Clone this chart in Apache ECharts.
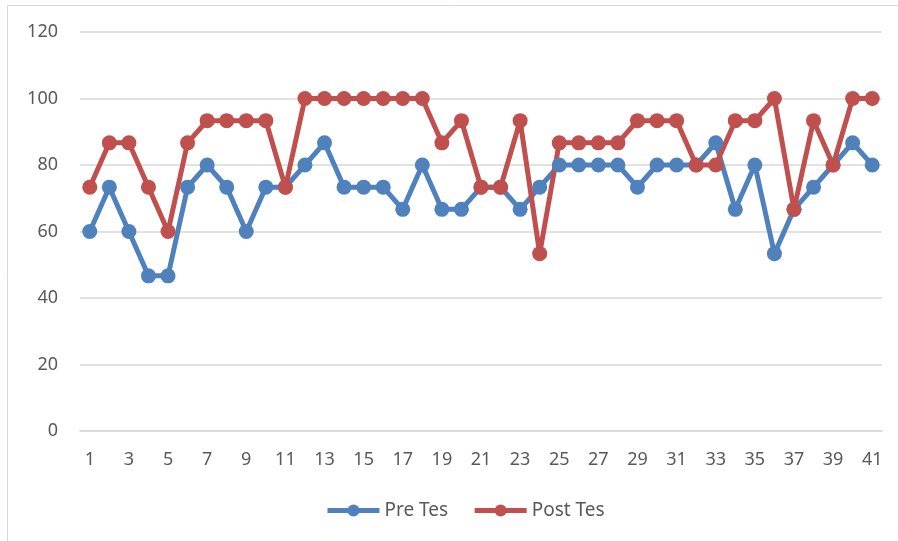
<!DOCTYPE html>
<html>
<head>
<meta charset="utf-8">
<script src="https://cdn.jsdelivr.net/npm/echarts@6/dist/echarts.min.js"></script>
<style>
  html, body { margin: 0; padding: 0; background: #fff; }
  #chart { width: 898px; height: 541px; }
</style>
</head>
<body>
<div id="chart"></div>
<script>
// data (scores out of 15, shown as percent)
const categories = Array.from({ length: 41 }, (_, i) => String(i + 1));
const preTes = [
  60, 73.33, 60, 46.67, 46.67, 73.33, 80, 73.33, 60, 73.33,
  73.33, 80, 86.67, 73.33, 73.33, 73.33, 66.67, 80, 66.67, 66.67,
  73.33, 73.33, 66.67, 73.33, 80, 80, 80, 80, 73.33, 80,
  80, 80, 86.67, 66.67, 80, 53.33, 66.67, 73.33, 80, 86.67,
  80
];
const postTes = [
  73.33, 86.67, 86.67, 73.33, 60, 86.67, 93.33, 93.33, 93.33, 93.33,
  73.33, 100, 100, 100, 100, 100, 100, 100, 86.67, 93.33,
  73.33, 73.33, 93.33, 53.33, 86.67, 86.67, 86.67, 86.67, 93.33, 93.33,
  93.33, 80, 80, 93.33, 93.33, 100, 66.67, 93.33, 80, 100,
  100
];

const font = "'Noto Sans', sans-serif";
let myChart = echarts.init(document.getElementById('chart'));
let option = {
  animation: false,
  color: ['#4f81bd', '#c0504d'],
  graphic: [{
    type: 'rect',
    shape: { x: 7.5, y: 5.5, width: 900, height: 600 },
    style: { fill: 'none', stroke: '#d9d9d9', lineWidth: 1 },
    silent: true,
  }],
  grid: { left: 80, right: 16, top: 32, bottom: 110 },
  legend: {
    bottom: 16,
    left: 320,
    itemWidth: 52,
    itemHeight: 15,
    itemGap: 24,
    lineStyle: { width: 5 },
    textStyle: { fontFamily: font, fontSize: 19, color: '#595959' },
    data: ['Pre Tes', 'Post Tes'],
  },
  xAxis: {
    type: 'category',
    data: categories,
    boundaryGap: true,
    axisLine: { lineStyle: { color: '#d9d9d9', width: 1.5 } },
    axisTick: { show: false },
    axisLabel: { interval: 1, margin: 20, fontFamily: font, fontSize: 18, color: '#595959' },
  },
  yAxis: {
    type: 'value',
    min: 0,
    max: 120,
    interval: 20,
    axisLine: { show: false },
    axisTick: { show: false },
    splitLine: { lineStyle: { color: '#d9d9d9', width: 1.5 } },
    axisLabel: { margin: 22, fontFamily: font, fontSize: 18, color: '#595959' },
  },
  series: [
    {
      name: 'Pre Tes',
      type: 'line',
      data: preTes,
      symbol: 'circle',
      symbolSize: 15,
      showAllSymbol: true,
      lineStyle: { width: 5 },
    },
    {
      name: 'Post Tes',
      type: 'line',
      data: postTes,
      symbol: 'circle',
      symbolSize: 15,
      showAllSymbol: true,
      lineStyle: { width: 5 },
    },
  ],
};
myChart.setOption(option);
</script>
</body>
</html>
